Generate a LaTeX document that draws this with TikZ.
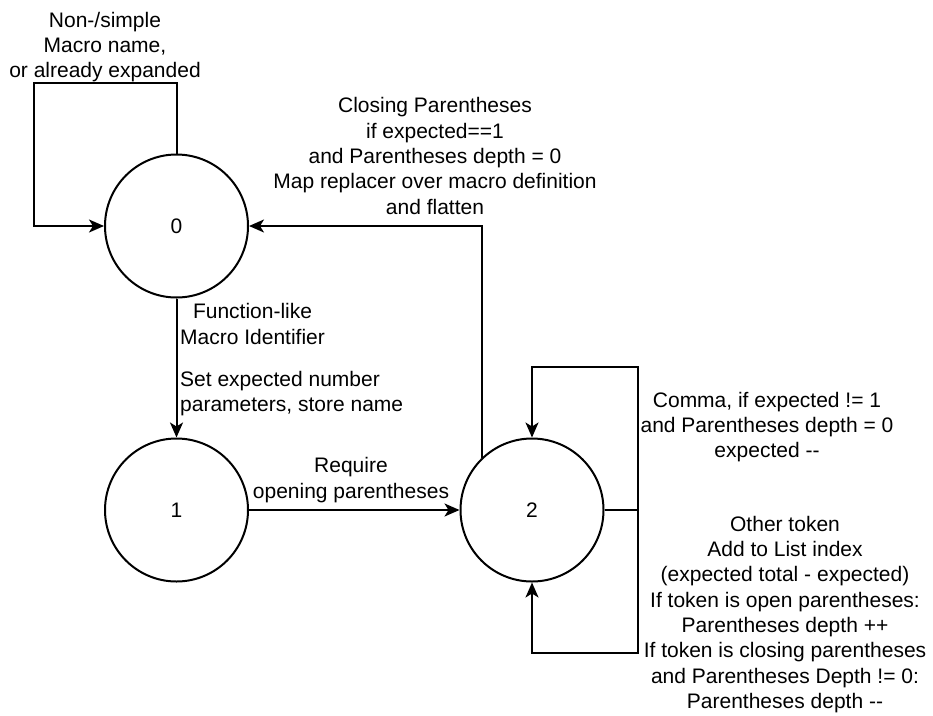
\documentclass[tikz,border=0pt]{standalone}
\usepackage{fontspec}
\setmainfont{Liberation Sans}
\usetikzlibrary{arrows.meta}

\begin{document}
\begin{tikzpicture}[x=1pt, y=-1pt,
    every node/.style={font=\fontsize{21}{25.3}\selectfont},
    state/.style={draw, circle, line width=2pt, minimum size=143pt, inner sep=0pt},
    edge/.style={line width=2pt, -{Stealth[length=15pt, width=13pt, inset=4pt]}},
    lbl/.style={align=center, inner sep=0pt}]
  \useasboundingbox (0,0) rectangle (933,715);

  \node[state] (s0) at (176.5,226) {0};
  \node[state] (s1) at (176.5,510) {1};
  \node[state] (s2) at (532,510) {2};

  \coordinate (k0) at (34,83);
  \coordinate (k2up) at (638,367);
  \coordinate (k2dn) at (638,653);

  \draw[edge] (s0.north) |- (k0) |- (s0.west);
  \node[lbl] (t0) at (105,47) {Non-/simple\\Macro name,\\or already expanded};

  \draw[edge] (s0) -- (s1);
  \node[lbl, anchor=west] (t01a) at (180,324) {Function-like\\Macro Identifier};
  \node[lbl, align=left, anchor=west] (t01b) at (180,393.5) {Set expected number\\parameters, store name};

  \draw[edge] (s1) -- (s2);
  \node[lbl] (t12) at (351,480) {Require\\opening parentheses};

  \draw[edge] (s2.134) |- (s0.east);
  \node[lbl] (t20) at (435,156) {Closing Parentheses\\if expected==1\\and Parentheses depth = 0\\Map replacer over macro definition\\and flatten};

  \draw[edge] (s2.east) -| (k2up) -| (s2.north);
  \draw[edge] (s2.east) -| (k2dn) -| (s2.south);
  \node[lbl] (t2a) at (767,427) {Comma, if expected != 1\\and Parentheses depth = 0\\expected -{}-};
  \node[lbl] (t2b) at (785,614.5) {Other token\\Add to List index\\(expected total - expected)\\If token is open parentheses:\\Parentheses depth ++\\If token is closing parentheses\\and Parentheses Depth != 0:\\Parentheses depth -{}-};
\end{tikzpicture}
\end{document}
